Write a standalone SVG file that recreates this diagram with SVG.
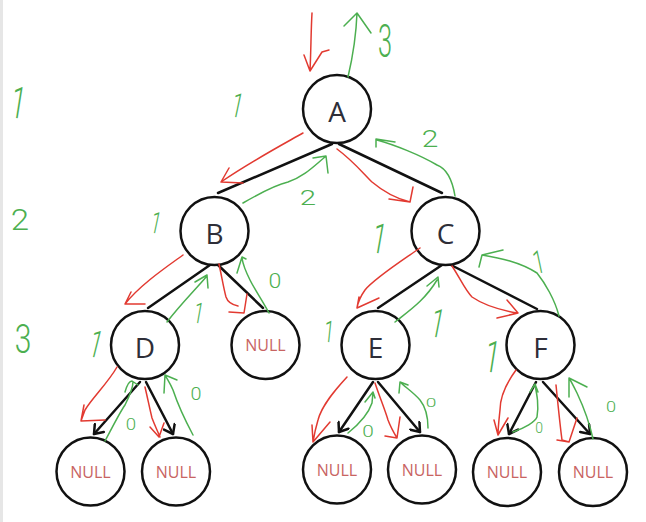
<svg xmlns="http://www.w3.org/2000/svg" width="646" height="522" viewBox="0 0 646 522">
<defs>
<style>
.bg{fill:#ffffff}
.n{fill:#ffffff;stroke:#111111;stroke-width:2.5}
.lbl{font-family:"Open Sans","Noto Sans",sans-serif;font-size:28px;fill:#2e2e38;text-anchor:middle}
.nul{font-family:"Open Sans","Noto Sans",sans-serif;font-size:16px;fill:#c86462;text-anchor:middle}
.e{stroke:#111111;stroke-width:2.5;fill:none;stroke-linecap:round}
.r{stroke:#e23a31;stroke-width:1.5;fill:none;stroke-linecap:round;stroke-linejoin:round}
.g{stroke:#4caf50;stroke-width:1.5;fill:none;stroke-linecap:round;stroke-linejoin:round}
.d{font-family:Roboto,Inter,"Open Sans",sans-serif;font-weight:300;fill:#4caf50;text-anchor:middle}
</style>
<marker id="ah" viewBox="0 0 12 14" markerWidth="12" markerHeight="14" refX="10" refY="7" orient="auto" markerUnits="userSpaceOnUse">
<path d="M2,1 L10,7 L2,13" fill="none" stroke="#111111" stroke-width="2.5" stroke-linecap="round" stroke-linejoin="round"/>
</marker>
</defs>
<rect class="bg" x="0" y="0" width="646" height="522"/>
<rect x="0" y="0" width="3" height="522" fill="#e6e6e6"/>

<g id="connectors">
<line class="e" x1="332" y1="144" x2="218" y2="193"/>
<line class="e" x1="339" y1="144" x2="442" y2="193"/>
<line class="e" x1="210" y1="265" x2="148" y2="308"/>
<line class="e" x1="218" y1="265" x2="263" y2="308"/>
<line class="e" x1="442" y1="265" x2="378" y2="308"/>
<line class="e" x1="451" y1="265" x2="537" y2="309"/>
<line class="e" x1="140" y1="382" x2="94" y2="434" marker-end="url(#ah)"/>
<line class="e" x1="146" y1="382" x2="173" y2="434" marker-end="url(#ah)"/>
<line class="e" x1="373" y1="382" x2="339" y2="432" marker-end="url(#ah)"/>
<line class="e" x1="378" y1="382" x2="420" y2="432" marker-end="url(#ah)"/>
<line class="e" x1="536" y1="382" x2="509" y2="434" marker-end="url(#ah)"/>
<line class="e" x1="543" y1="382" x2="590" y2="434" marker-end="url(#ah)"/>
</g>

<g id="node-A"><circle class="n" cx="337" cy="109" r="34"/><text class="lbl" x="337" y="122">A</text></g>
<g id="node-B"><circle class="n" cx="214.5" cy="231" r="34"/><text class="lbl" x="214.5" y="244">B</text></g>
<g id="node-C"><circle class="n" cx="445.5" cy="231" r="34"/><text class="lbl" x="445.5" y="244">C</text></g>
<g id="node-D"><circle class="n" cx="145" cy="345" r="34"/><text class="lbl" x="145" y="358">D</text></g>
<g id="node-NULL-B"><circle class="n" cx="265.5" cy="345" r="34"/><text class="nul" x="265.5" y="351">NULL</text></g>
<g id="node-E"><circle class="n" cx="375.5" cy="345" r="34"/><text class="lbl" x="375.5" y="358">E</text></g>
<g id="node-F"><circle class="n" cx="540.5" cy="345" r="34"/><text class="lbl" x="540.5" y="358">F</text></g>
<g id="node-NULL-D1"><circle class="n" cx="90.5" cy="471.5" r="34"/><text class="nul" x="90.5" y="477.5">NULL</text></g>
<g id="node-NULL-D2"><circle class="n" cx="176" cy="471.5" r="34"/><text class="nul" x="176" y="477.5">NULL</text></g>
<g id="node-NULL-E1"><circle class="n" cx="337" cy="469.5" r="34"/><text class="nul" x="337" y="475.5">NULL</text></g>
<g id="node-NULL-E2"><circle class="n" cx="422" cy="469.5" r="34"/><text class="nul" x="422" y="475.5">NULL</text></g>
<g id="node-NULL-F1"><circle class="n" cx="507" cy="472" r="34"/><text class="nul" x="507" y="478">NULL</text></g>
<g id="node-NULL-F2"><circle class="n" cx="593" cy="472" r="34"/><text class="nul" x="593" y="478">NULL</text></g>

<g id="red-strokes">
<path class="r" d="M312,13 C311,30 311,50 310,71 M304,55 L310,71 L322,52 L329,50"/>
<path class="r" d="M303,133 C280,146 250,162 221,182 M229,168 L221,182 L243,183"/>
<path class="r" d="M337,149 C352,160 362,172 372,182 C385,193 398,199 410,202 M413,187 L410,202 L389,199"/>
<path class="r" d="M183,255 C165,268 140,285 125,304 M131,292 L125,304 L145,304"/>
<path class="r" d="M219,264 C222,278 224,290 226,297 C228,303 233,305 238,306 M247,294 L244,313 L229,312"/>
<path class="r" d="M420,248 C400,262 375,278 365,290 C360,297 358,302 357,308 M359,297 L357,308 L379,298"/>
<path class="r" d="M452,266 C460,278 465,290 472,297 C485,306 500,310 517,313 M507,300 L518,313 L497,318"/>
<path class="r" d="M117,367 C108,383 92,398 85,410 L81,421 M84,405 L81,421 L105,420"/>
<path class="r" d="M145,387 C148,400 150,410 152,418 C155,426 158,432 160,437 M150,427 L159,437 L164,423"/>
<path class="r" d="M347,377 C335,390 322,405 318,420 C315,430 314,436 313,442 M312,425 L313,442 L330,422"/>
<path class="r" d="M375,383 C380,398 385,410 388,420 C391,428 394,433 397,438 M385,436 L397,438 L400,417"/>
<path class="r" d="M516,370 C505,385 500,398 500,410 C499,420 498,428 498,435 M494,420 L498,435 L508,418"/>
<path class="r" d="M556,385 C558,405 560,425 562,440 L569,442 L577,418 M557,440 L569,442"/>
</g>

<g id="green-strokes">
<path class="g" d="M348,77 C352,60 356,40 357,13 M344,26 L357,13 L371,33"/>
<path class="g" d="M455,196 C452,178 445,168 437,165 C420,155 395,145 377,140 M376,147 L376,139 L395,142"/>
<path class="g" d="M243,203 C262,192 275,185 288,182 C305,176 315,165 325,157 M313,158 L326,156 L328,173"/>
<path class="g" d="M167,322 C180,305 195,290 207,276 M195,282 L207,275 L208,288"/>
<path class="g" d="M269,313 C262,300 255,290 250,280 C246,272 243,265 242,258 M237,273 L242,257 L246,259"/>
<path class="g" d="M395,322 C410,310 425,300 437,280 M427,286 L438,277 L439,287"/>
<path class="g" d="M559,316 C555,300 545,283 537,273 C520,262 500,258 482,255 M479,267 L482,255 L503,250"/>
<path class="g" d="M105,441 C112,428 120,412 125,405 C130,395 133,388 133,382 M125,392 C127,385 129,381 132,381 L138,385"/>
<path class="g" d="M193,435 C185,420 178,405 173,390 C170,383 167,379 165,375 M164,393 L165,375 L177,380"/>
<path class="g" d="M348,433 C358,425 368,415 372,403 L373,392 M365,402 L373,392 L375,398"/>
<path class="g" d="M428,428 C428,415 424,405 420,400 C413,392 405,387 400,382 M399,393 L400,382 L408,385"/>
<path class="g" d="M513,432 C525,428 535,422 537,417 C539,405 537,395 535,385 M530,392 L535,384 L538,392"/>
<path class="g" d="M593,439 C590,425 585,410 577,393 C573,385 571,381 569,378 M569,397 L569,378 L587,387"/>
</g>

<g id="green-digits">
<text class="d" font-size="44" transform="translate(16,118) rotate(9) scale(0.6,1)">1</text>
<text class="d" font-size="30" transform="translate(20,230) scale(1.1,1)">2</text>
<text class="d" font-size="40" transform="translate(23,353) scale(0.75,1)">3</text>
<text class="d" font-size="46" transform="translate(385,57) scale(0.55,1)">3</text>
<text class="d" font-size="34" transform="translate(235,117) rotate(12) scale(0.6,1)">1</text>
<text class="d" font-size="23" transform="translate(430,147) scale(1.3,1)">2</text>
<text class="d" font-size="21" transform="translate(308,205) scale(1.4,1)">2</text>
<text class="d" font-size="30" transform="translate(154,233) rotate(12) scale(0.6,1)">1</text>
<text class="d" font-size="42" transform="translate(377,253) rotate(10) scale(0.6,1)">1</text>
<text class="d" font-size="32" transform="translate(541,273) rotate(-12) scale(0.6,1)">1</text>
<text class="d" font-size="21" transform="translate(275,288) scale(1.1,1)">0</text>
<text class="d" font-size="29" transform="translate(197,323) rotate(10) scale(0.6,1)">1</text>
<text class="d" font-size="38" transform="translate(93,357) rotate(14) scale(0.6,1)">1</text>
<text class="d" font-size="30" transform="translate(328,342) rotate(6) scale(0.6,1)">1</text>
<text class="d" font-size="40" transform="translate(435,337) rotate(11) scale(0.6,1)">1</text>
<text class="d" font-size="44" transform="translate(490,372) rotate(9) scale(0.6,1)">1</text>
<text class="d" font-size="18" transform="translate(196,400) scale(1.1,1)">0</text>
<text class="d" font-size="17" transform="translate(131,430) scale(1.1,1)">0</text>
<text class="d" font-size="12" transform="translate(431,407) scale(1.6,1)">0</text>
<text class="d" font-size="16" transform="translate(368,437) scale(1.3,1)">0</text>
<text class="d" font-size="14" transform="translate(539,433) scale(1,1)">0</text>
<text class="d" font-size="14" transform="translate(611,412) scale(1.3,1)">0</text>
</g>
</svg>
